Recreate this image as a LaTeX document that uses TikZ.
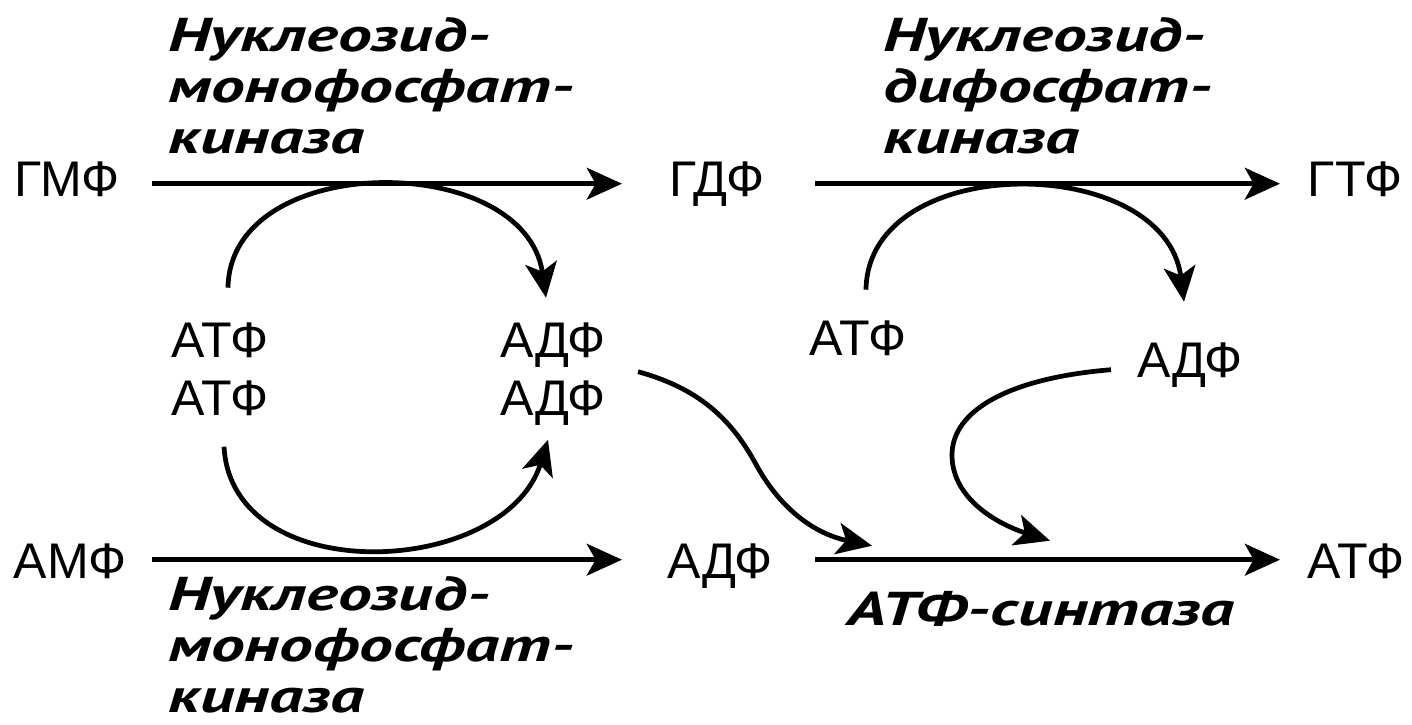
\documentclass[tikz,border=0pt]{standalone}
\usepackage{fontspec}
\setmainfont{Liberation Sans}
\newfontfamily\labfont{PT Sans}[FakeStretch=1.42]
\usetikzlibrary{arrows.meta,calc}
\begin{document}
\begin{tikzpicture}[x=0.02cm,y=-0.02cm,
  chem/.style={font=\fontsize{28.5}{30}\selectfont, inner sep=0pt, anchor=base, text height=14pt, text depth=0pt},
  enz/.style={font=\labfont\bfseries\itshape\fontsize{27}{29}\selectfont, align=left, inner sep=0pt, anchor=base west},
  rxn/.style={line width=3pt, -{Stealth[length=20pt,width=18pt,inset=5pt]}},
  cur/.style={line width=2.7pt, -{Stealth[length=20pt,width=18pt,inset=5pt]}},
]
\useasboundingbox (0,0) rectangle (1412,724);
% metabolites
\node[chem] (gmp)  at (67,196)   {ГМФ};
\node[chem] (gdp)  at (717,196)  {ГДФ};
\node[chem] (gtp)  at (1355,196) {ГТФ};
\node[chem] (atp1) at (220,357)  {АТФ};
\node[chem] (atp2) at (220,415)  {АТФ};
\node[chem] (adp1) at (553,357)  {АДФ};
\node[chem] (adp2) at (553,415)  {АДФ};
\node[chem] (atp3) at (858,355)  {АТФ};
\node[chem] (adp3) at (1190,377) {АДФ};
\node[chem] (amp)  at (70,578)   {АМФ};
\node[chem] (adp4) at (720,578)  {АДФ};
\node[chem] (atp4) at (1356,578) {АТФ};
% enzymes (anchor = baseline of last line)
\node[enz] (enz1) at (168,153)  {Нуклеозид-\\монофосфат-\\киназа};
\node[enz] (enz2) at (883,153)  {Нуклеозид-\\дифосфат-\\киназа};
\node[enz] (enz3) at (168,712) {Нуклеозид-\\монофосфат-\\киназа};
\node[enz] (enz4) at (847,625) {АТФ-синтаза};
% main reactions
\draw[rxn] ($(gmp)+(85,0)$) -- ($(gdp)+(-95,0)$);
\draw[rxn] ($(gdp)+(98,0)$) -- ($(gtp)+(-75,0)$);
\draw[rxn] ($(amp)+(82,-6)$) -- ($(adp4)+(-98,-6)$);
\draw[rxn] ($(adp4)+(95,-6)$) -- ($(atp4)+(-76,-6)$);
% coupled ATP -> ADP
\draw[cur] ($(atp1)+(8,-57)$) .. controls (230,150) and (525,150) .. ($(adp1)+(-7,-47)$);
\draw[cur] ($(atp2)+(4,44)$) .. controls (232,590) and (505,578) .. ($(adp2)+(-5,37)$);
\draw[cur] ($(atp3)+(8,-53)$) .. controls (868,150) and (1165,152) .. ($(adp3)+(-6,-63)$);
% ADP to ATP synthase
\draw[cur] ($(adp2)+(85,-31)$) .. controls (705,390) and (735,425) .. (758,468)
   .. controls (785,515) and (820,535) .. ($(adp4)+(152,-20)$);
\draw[cur] ($(adp3)+(-79,5)$) .. controls (1010,378) and (952,410) .. (952,455)
   .. controls (952,500) and (1000,525) .. ($(adp4)+(330,-25)$);
\end{tikzpicture}
\end{document}
